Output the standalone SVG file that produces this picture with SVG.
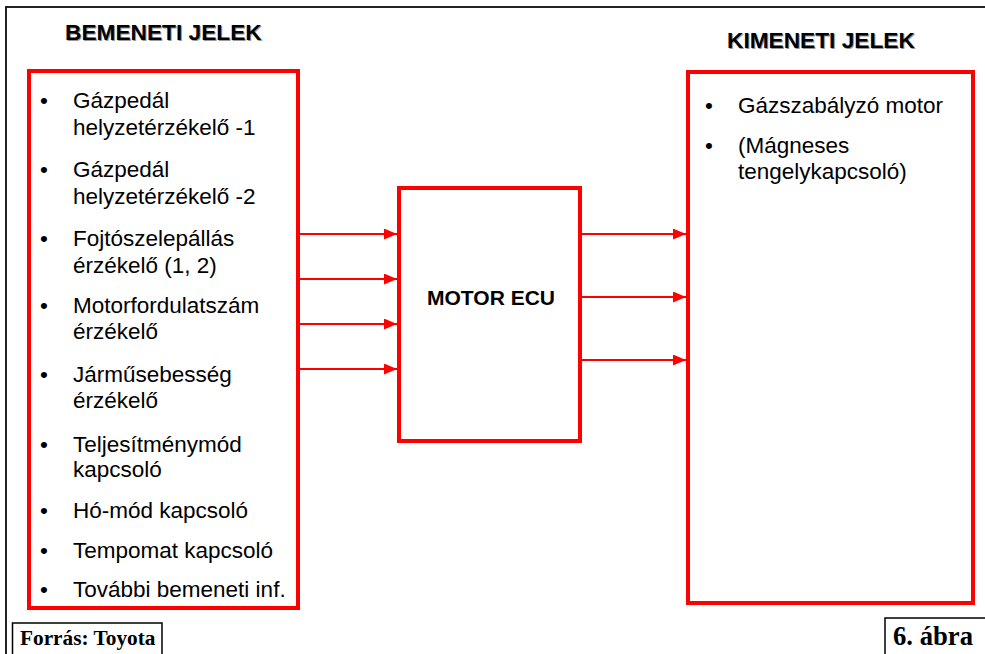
<svg xmlns="http://www.w3.org/2000/svg" width="985" height="654" viewBox="0 0 985 654">
<style>
.frame{fill:none;stroke:#222;stroke-width:2}
.rbox{fill:#fff;stroke:#ff0000;stroke-width:4}
.t{font-family:"Liberation Sans",Arial,sans-serif;font-size:22.5px;fill:#000}
.h{font-family:"Liberation Sans",Arial,sans-serif;font-size:22.7px;font-weight:bold;fill:#000}
.hs{font-family:"Liberation Sans",Arial,sans-serif;font-size:22.7px;font-weight:bold;fill:#999}
.cap{font-family:"Liberation Serif","Times New Roman",serif;font-weight:bold;fill:#000}
.conn{stroke:#ff0000;stroke-width:2;fill:none}
.lbox{fill:#fff;stroke:#000;stroke-width:1.5}
</style>
<defs>
<marker id="arr" viewBox="0 0 13 11" refX="13" refY="5.5" markerWidth="13" markerHeight="11" markerUnits="userSpaceOnUse" orient="auto">
<path d="M0,0 L13,5.5 L0,11 Z" fill="#ff0000"/>
</marker>
</defs>
<rect width="985" height="654" fill="#fff"/>
<path class="frame" d="M6,654 V7 H985"/>

<g id="heading-in">
<text class="hs" x="66" y="41">BEMENETI JELEK</text>
<text class="h" x="65" y="40">BEMENETI JELEK</text>
</g>
<g id="heading-out">
<text class="hs" x="728" y="49">KIMENETI JELEK</text>
<text class="h" x="727" y="48">KIMENETI JELEK</text>
</g>

<g id="inputs">
<rect class="rbox" x="29" y="71" width="269" height="537"/>
<g class="t">
<text x="40" y="108">•</text><text x="73" y="108">Gázpedál</text>
<text x="73" y="134.5">helyzetérzékelő -1</text>
<text x="40" y="177">•</text><text x="73" y="177">Gázpedál</text>
<text x="73" y="203.5">helyzetérzékelő -2</text>
<text x="40" y="246">•</text><text x="73" y="246">Fojtószelepállás</text>
<text x="73" y="272.5">érzékelő (1, 2)</text>
<text x="40" y="312.5">•</text><text x="73" y="312.5">Motorfordulatszám</text>
<text x="73" y="339">érzékelő</text>
<text x="40" y="382">•</text><text x="73" y="382">Járműsebesség</text>
<text x="73" y="408">érzékelő</text>
<text x="40" y="451.5">•</text><text x="73" y="451.5">Teljesítménymód</text>
<text x="73" y="477">kapcsoló</text>
<text x="40" y="518">•</text><text x="73" y="518">Hó-mód kapcsoló</text>
<text x="40" y="558">•</text><text x="73" y="558">Tempomat kapcsoló</text>
<text x="40" y="597">•</text><text x="73" y="597">További bemeneti inf.</text>
</g>
</g>

<g id="ecu">
<rect class="rbox" x="399" y="188" width="181" height="253"/>
<text x="491" y="305" text-anchor="middle" font-family="'Liberation Sans',Arial,sans-serif" font-size="21" font-weight="bold">MOTOR ECU</text>
</g>

<g id="outputs">
<rect class="rbox" x="688" y="72" width="285" height="531"/>
<g class="t">
<text x="705" y="113">•</text><text x="738" y="113">Gázszabályzó motor</text>
<text x="705" y="153">•</text><text x="738" y="153">(Mágneses</text>
<text x="738" y="178.5">tengelykapcsoló)</text>
</g>
</g>

<g id="connectors">
<line class="conn" x1="300" y1="234" x2="397" y2="234" marker-end="url(#arr)"/>
<line class="conn" x1="300" y1="279" x2="397" y2="279" marker-end="url(#arr)"/>
<line class="conn" x1="300" y1="324" x2="397" y2="324" marker-end="url(#arr)"/>
<line class="conn" x1="300" y1="369" x2="397" y2="369" marker-end="url(#arr)"/>
<line class="conn" x1="582" y1="234" x2="686" y2="234" marker-end="url(#arr)"/>
<line class="conn" x1="582" y1="297" x2="686" y2="297" marker-end="url(#arr)"/>
<line class="conn" x1="582" y1="360" x2="686" y2="360" marker-end="url(#arr)"/>
</g>

<g id="source">
<rect class="lbox" x="12.5" y="623" width="149.5" height="40"/>
<text class="cap" x="20" y="645" font-size="21.3">Forrás: Toyota</text>
</g>
<g id="figure">
<rect class="lbox" x="885" y="618" width="110" height="45"/>
<text class="cap" x="893" y="645" font-size="26.7">6. ábra</text>
</g>
</svg>
